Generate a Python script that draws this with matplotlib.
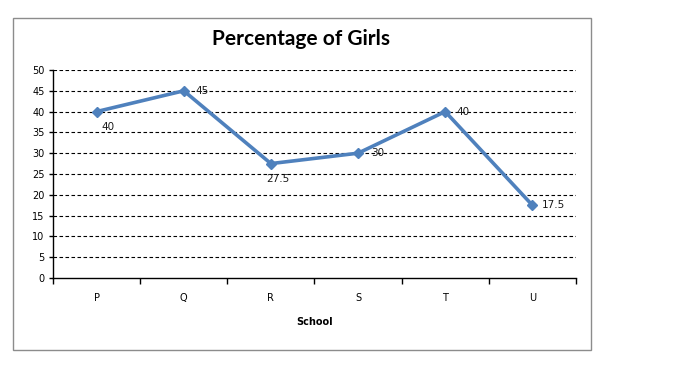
import numpy as np
import matplotlib
matplotlib.use("Agg")
import matplotlib.pyplot as plt
from matplotlib.patches import Rectangle

schools = ["P", "Q", "R", "S", "T", "U"]
girls_pct = [40, 45, 27.5, 30, 40, 17.5]
label_text = ["40", "45", "27.5", "30", "40", "17.5"]
# offsets (points) of the data labels from their markers
label_offsets = [(8, -11), (13, 0), (5, -11), (14, 0), (13, 0), (15, 0)]

fig = plt.figure(figsize=(6.84, 3.68), dpi=100)

# outer chart border
fig.patches.append(Rectangle((0.019, 0.049), 0.845, 0.902, transform=fig.transFigure,
                             fill=False, edgecolor="#8c8c8c", linewidth=1.0))

ax = fig.add_axes([0.0775, 0.2446, 0.7645, 0.5652])

x = np.arange(len(schools))
ax.plot(x, girls_pct, color="#4F81BD", linewidth=2.6, marker="D", markersize=5.5,
        zorder=3)

for xi, yi, txt, off in zip(x, girls_pct, label_text, label_offsets):
    ax.annotate(txt, (xi, yi), xytext=off, textcoords="offset points",
                ha="center", va="center", fontsize=7.5, color="#1a1a1a")

ax.set_xlim(-0.5, len(schools) - 0.5)
ax.set_ylim(0, 50)
ax.set_yticks(np.arange(0, 51, 5))
ax.set_xticks(np.arange(-0.5, len(schools), 1.0))
ax.set_xticklabels([])
ax.set_xticks(x, minor=True)
ax.set_xticklabels(schools, minor=True, fontsize=7)
ax.tick_params(axis="x", which="major", direction="out", length=4, width=1)
ax.tick_params(axis="x", which="minor", length=0, pad=11)
ax.tick_params(axis="y", direction="out", length=3, width=1, labelsize=7, pad=3)

for yv in np.arange(5, 51, 5):
    ax.axhline(yv, color="black", linestyle=(0, (3.2, 2.2)), linewidth=0.8, zorder=1)

for s in ["top", "right"]:
    ax.spines[s].set_visible(False)
ax.spines["left"].set_linewidth(1)
ax.spines["bottom"].set_linewidth(1)

ax.set_xlabel("School", fontsize=7, fontweight="bold", labelpad=10)
fig.text(0.44, 0.893, "Percentage of Girls", ha="center", va="center",
         fontsize=15, fontweight="bold", family="Lato")

fig.savefig("out.png", dpi=100)
